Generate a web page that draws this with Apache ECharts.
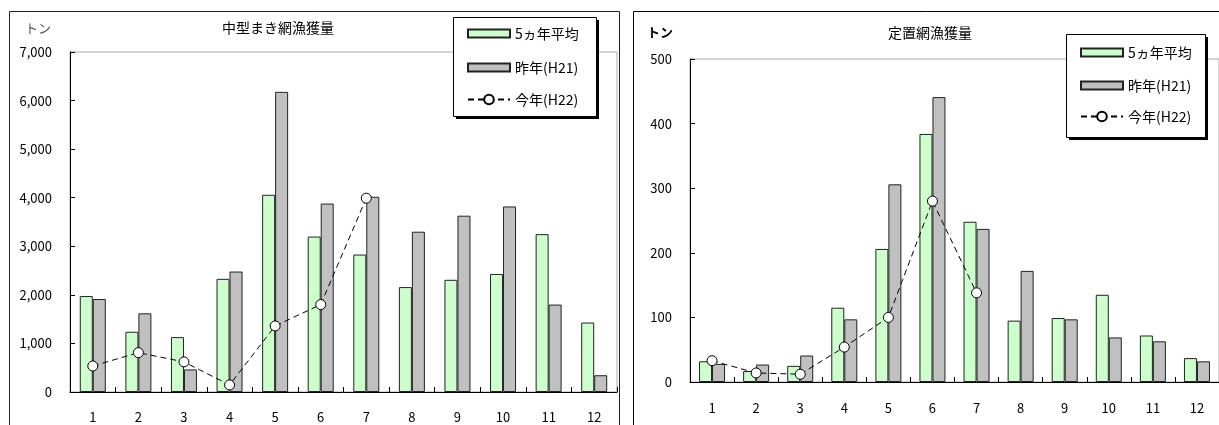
<!DOCTYPE html>
<html>
<head>
<meta charset="utf-8">
<script src="https://cdn.jsdelivr.net/npm/echarts@6/dist/echarts.min.js"></script>
<style>
  html, body { margin: 0; padding: 0; background: #fff; }
  #main { width: 1219px; height: 425px; }
</style>
</head>
<body>
<div id="main"></div>
<script>
// Months on the category axis
const months = ['1', '2', '3', '4', '5', '6', '7', '8', '9', '10', '11', '12'];

// 中型まき網 (tons)
const seineAvg5 = [1975, 1240, 1130, 2330, 4060, 3200, 2830, 2160, 2310, 2430, 3250, 1430];
const seinePrev = [1915, 1620, 465, 2480, 6180, 3880, 4020, 3300, 3630, 3820, 1800, 345];
const seineCur  = [535, 810, 620, 145, 1360, 1800, 3990];

// 定置網 (tons)
const trapAvg5 = [32, 17, 25, 115, 206, 384, 248, 95, 99, 135, 72, 37];
const trapPrev = [28, 27, 41, 97, 306, 441, 237, 172, 97, 69, 63, 32];
const trapCur  = [33, 14, 12, 54, 100, 280, 138];

// Axis ranges
const seineMax = 7000, seineStep = 1000;
const trapMax = 500, trapStep = 100;

// Legend / series names
const nameAvg = '5ヵ年平均';
const namePrev = '昨年(H21)';
const nameCur = '今年(H22)';

const FONT = '"Noto Sans CJK JP", "Noto Sans", sans-serif';

const chart = echarts.init(document.getElementById('main'), null, { renderer: 'canvas' });

function xAxisFor(gridIndex, margin) {
  return {
    type: 'category', gridIndex, data: months,
    axisLine: { lineStyle: { color: '#000', width: 1 } },
    axisTick: { show: true, inside: true, length: 5, lineStyle: { color: '#000' } },
    axisLabel: { color: '#000', fontSize: 13, fontFamily: FONT, margin }
  };
}
function yAxisFor(gridIndex, max, step) {
  return {
    type: 'value', gridIndex, min: 0, max, interval: step,
    axisLine: { show: true, lineStyle: { color: '#000', width: 1 } },
    axisTick: { show: true, inside: true, length: 5, lineStyle: { color: '#000' } },
    splitLine: { show: false },
    axisLabel: {
      color: '#000', fontSize: 13, fontFamily: FONT, margin: 18,
      formatter: v => v.toLocaleString('en-US')
    }
  };
}
function barSeries(name, data, idx, color) {
  return {
    name, type: 'bar', data, xAxisIndex: idx, yAxisIndex: idx,
    barWidth: 13, barGap: '0%',
    itemStyle: { color, borderColor: '#222', borderWidth: 1 },
    emphasis: { disabled: true }, z: 2
  };
}
function lineSeries(data, idx) {
  return {
    name: nameCur, type: 'line', data, xAxisIndex: idx, yAxisIndex: idx,
    symbol: 'circle', symbolSize: 10,
    lineStyle: { color: '#000', width: 1, type: [6, 4] },
    itemStyle: { color: '#fff', borderColor: '#000', borderWidth: 1 },
    emphasis: { disabled: true }, z: 5
  };
}
const legendText = { color: '#000', fontSize: 14, lineHeight: 15, fontFamily: FONT };
// bar entries of a legend panel
function barLegendAt(left, top, gap) {
  return {
    orient: 'vertical', left, top, padding: 0,
    itemWidth: 42, itemHeight: 8, itemGap: gap,
    selectedMode: false, z: 20, textStyle: legendText,
    data: [{ name: nameAvg, icon: 'rect' }, { name: namePrev, icon: 'rect' }]
  };
}
// line entry of a legend panel (taller item so the marker circle is full size)
function lineLegendAt(left, top) {
  return {
    orient: 'vertical', left, top, padding: 0,
    itemWidth: 42, itemHeight: 12,
    selectedMode: false, z: 20, textStyle: legendText,
    data: [{ name: nameCur }]
  };
}
function legendBox(x, y, w, h) {
  return [
    { type: 'rect', z: 15, silent: true, shape: { x: x + 3, y: y + 3, width: w, height: h }, style: { fill: '#000' } },
    { type: 'rect', z: 16, silent: true, shape: { x: x + 0.5, y: y + 0.5, width: w, height: h }, style: { fill: '#fff', stroke: '#000', lineWidth: 1 } }
  ];
}

chart.setOption({
  animation: false,
  textStyle: { fontFamily: FONT },
  title: [
    { text: '中型まき網漁獲量', left: 278, top: 21, textAlign: 'center', padding: 0,
      textStyle: { fontSize: 14, fontWeight: 'normal', color: '#000', fontFamily: FONT } },
    { text: '定置網漁獲量', left: 930, top: 26, textAlign: 'center', padding: 0,
      textStyle: { fontSize: 14, fontWeight: 'normal', color: '#000', fontFamily: FONT } },
    { text: 'トン', left: 38, top: 22, textAlign: 'center', padding: 0,
      textStyle: { fontSize: 13, fontWeight: 'normal', color: '#555', fontFamily: FONT } },
    { text: 'トン', left: 660, top: 26, textAlign: 'center', padding: 0,
      textStyle: { fontSize: 13, fontWeight: 'bold', color: '#000', fontFamily: FONT } }
  ],
  grid: [
    { left: 70, top: 52, width: 547, height: 340, show: true, borderColor: '#a8a8a8', borderWidth: 1, backgroundColor: 'transparent' },
    { left: 690, top: 59, width: 531, height: 323, show: true, borderColor: '#a8a8a8', borderWidth: 1, backgroundColor: 'transparent' }
  ],
  xAxis: [xAxisFor(0, 19), xAxisFor(1, 20)],
  yAxis: [yAxisFor(0, seineMax, seineStep), yAxisFor(1, trapMax, trapStep)],
  legend: [
    barLegendAt(467, 26, 19), lineLegendAt(467, 92),
    barLegendAt(1080, 45, 18), lineLegendAt(1080, 109)
  ],
  graphic: [
    // chart frames
    { type: 'rect', z: 1, silent: true, shape: { x: 9.5, y: 11.5, width: 610, height: 440 }, style: { fill: 'none', stroke: '#222', lineWidth: 1 } },
    { type: 'rect', z: 1, silent: true, shape: { x: 633.5, y: 11.5, width: 620, height: 440 }, style: { fill: 'none', stroke: '#000', lineWidth: 1 } },
    // legend panels
    ...legendBox(453, 17, 143, 99),
    ...legendBox(1066, 34, 139, 103)
  ],
  series: [
    barSeries(nameAvg, seineAvg5, 0, '#ccffcc'),
    barSeries(namePrev, seinePrev, 0, '#c0c0c0'),
    lineSeries(seineCur, 0),
    barSeries(nameAvg, trapAvg5, 1, '#ccffcc'),
    barSeries(namePrev, trapPrev, 1, '#c0c0c0'),
    lineSeries(trapCur, 1)
  ]
});
</script>
</body>
</html>
